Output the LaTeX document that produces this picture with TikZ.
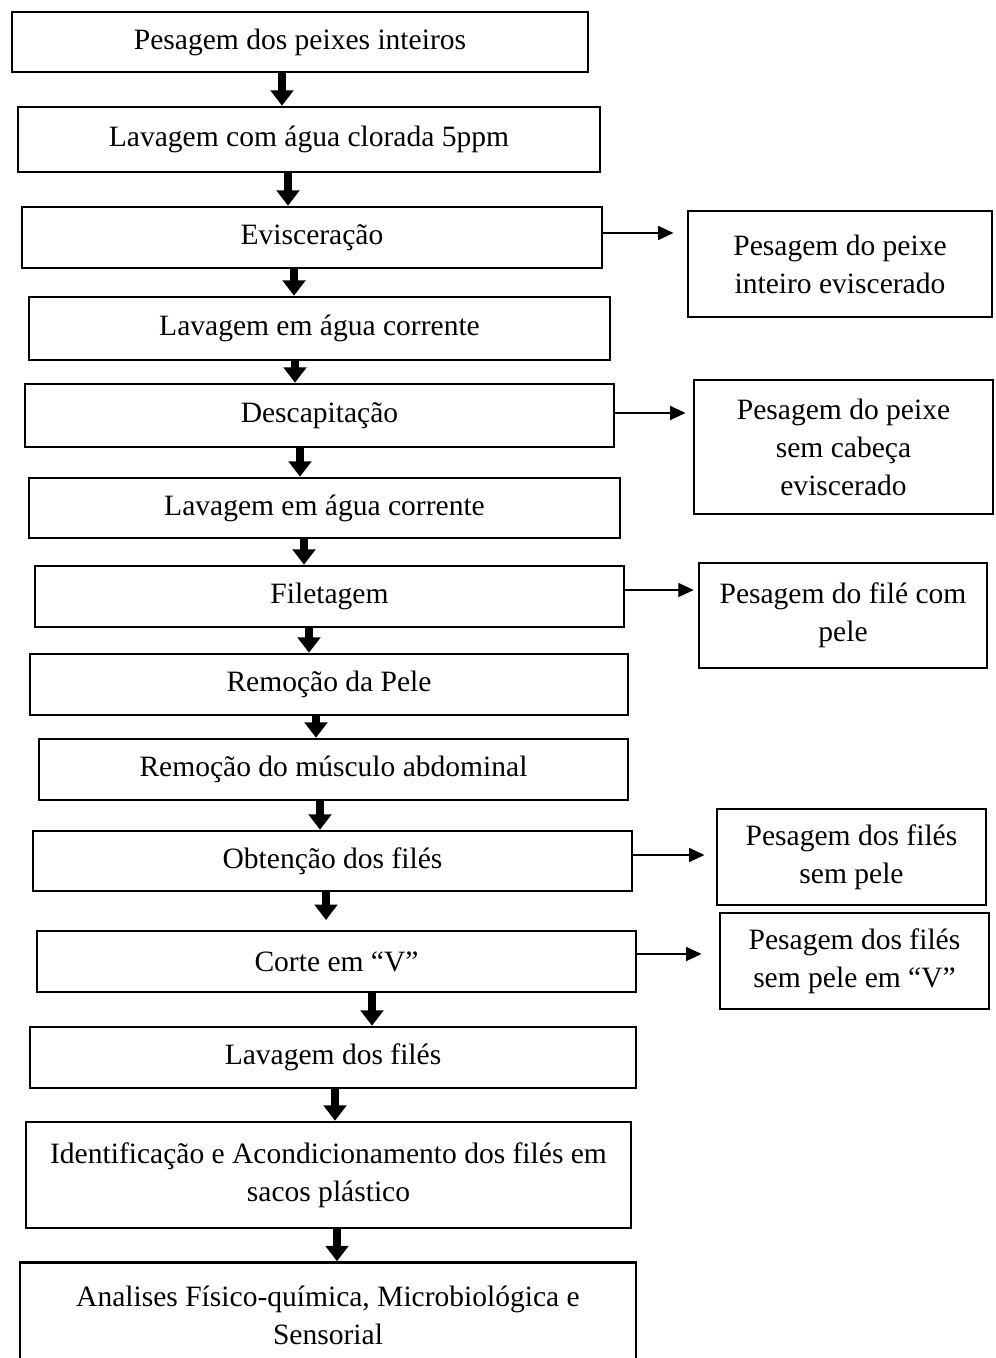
\documentclass[tikz,border=0pt]{standalone}
\usepackage{fontspec}
\setmainfont{Liberation Serif}
\usepackage{tikz}
\usetikzlibrary{arrows.meta}

\begin{document}
\begin{tikzpicture}[
  x=0.025cm,
  y=-0.025cm,
  every node/.style={font=\fontsize{21}{27}\selectfont},
  caixa/.style 2 args={draw,line width=1.8pt,align=center,inner sep=0pt,
    minimum width=#1*0.025cm,minimum height=#2*0.025cm},
  grossa/.style={-{Triangle[width=16pt,length=11pt]},line width=5pt},
  fina/.style={-{Triangle[width=10pt,length=11pt]},line width=0.9pt}
]
  \useasboundingbox (0,0) rectangle (995,1358);

  \node[caixa={576}{60}] (b1) at (300,42) {Pesagem dos peixes inteiros};
  \node[caixa={582}{65}] (b2) at (309,139.5) {Lavagem com água clorada 5ppm};
  \node[caixa={580}{61}] (b3) at (312,237.5) {Evisceração};
  \node[caixa={581}{63}] (b4) at (319.5,328.5) {Lavagem em água corrente};
  \node[caixa={589}{63}] (b5) at (319.5,415.5) {Descapitação};
  \node[caixa={591}{60}] (b6) at (324.5,508) {Lavagem em água corrente};
  \node[caixa={589}{61}] (b7) at (329.5,596.5) {Filetagem};
  \node[caixa={598}{61}] (b8) at (329,684.5) {Remoção da Pele};
  \node[caixa={589}{61}] (b9) at (333.5,769.5) {Remoção do músculo abdominal};
  \node[caixa={599}{60}] (b10) at (332.5,861) {Obtenção dos filés};
  \node[caixa={599}{61}] (b11) at (336.5,961.5) {Corte em “V”};
  \node[caixa={606}{61}] (b12) at (333,1057.5) {Lavagem dos filés};
  \node[caixa={605}{106}] (b13) at (328.5,1175)
    {Identificação e Acondicionamento dos filés em\\sacos plástico};
  \node[caixa={616}{106}] (b14) at (328,1315.5)
    {Analises Físico-química, Microbiológica e\\Sensorial};

  \node[caixa={304}{106}] (r1) at (840,264) {Pesagem do peixe\\inteiro eviscerado};
  \node[caixa={299}{134}] (r2) at (843.5,447) {Pesagem do peixe\\sem cabeça\\eviscerado};
  \node[caixa={288}{105}] (r3) at (843,615.5) {Pesagem do filé com\\pele};
  \node[caixa={269}{96}] (r4) at (851.5,857) {Pesagem dos filés\\sem pele};
  \node[caixa={269}{96}] (r5) at (854.5,961) {Pesagem dos filés\\sem pele em “V”};

  \draw[grossa] (282,0 |- b1.south) -- (282,0 |- b2.north);
  \draw[grossa] (288,0 |- b2.south) -- (288,0 |- b3.north);
  \draw[grossa] (294,0 |- b3.south) -- (294,0 |- b4.north);
  \draw[grossa] (295,0 |- b4.south) -- (295,0 |- b5.north);
  \draw[grossa] (300,0 |- b5.south) -- (300,0 |- b6.north);
  \draw[grossa] (304,0 |- b6.south) -- (304,0 |- b7.north);
  \draw[grossa] (309,0 |- b7.south) -- (309,0 |- b8.north);
  \draw[grossa] (316,0 |- b8.south) -- (316,0 |- b9.north);
  \draw[grossa] (320,0 |- b9.south) -- (320,0 |- b10.north);
  \coordinate (p11) at (326,920);
  \draw[grossa] (326,0 |- b10.south) -- (p11);
  \draw[grossa] (372,0 |- b11.south) -- (372,0 |- b12.north);
  \draw[grossa] (335,0 |- b12.south) -- (335,0 |- b13.north);
  \draw[grossa] (337,0 |- b13.south) -- (337,0 |- b14.north);

  \draw[fina] (b3.east |- 0,233) -- ([xshift=-0.33cm]r1.west |- 0,233);
  \draw[fina] (b5.east |- 0,413) -- ([xshift=-0.18cm]r2.west |- 0,413);
  \draw[fina] (b7.east |- 0,590) -- ([xshift=-0.10cm]r3.west |- 0,590);
  \draw[fina] (b10.east |- 0,855) -- ([xshift=-0.28cm]r4.west |- 0,855);
  \draw[fina] (b11.east |- 0,954) -- ([xshift=-0.43cm]r5.west |- 0,954);
\end{tikzpicture}
\end{document}
